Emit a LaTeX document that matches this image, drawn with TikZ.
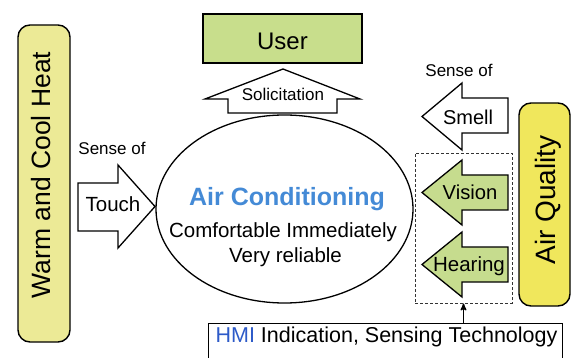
\documentclass[tikz,border=0pt]{standalone}
\usepackage{fontspec}
\setmainfont{Liberation Sans}
\usetikzlibrary{arrows,positioning,calc,shapes.geometric}
\definecolor{heatyellow}{RGB}{236,234,150}
\definecolor{airyellow}{RGB}{240,231,92}
\definecolor{usergreen}{RGB}{200,222,140}
\definecolor{sensegreen}{RGB}{198,220,142}
\definecolor{acblue}{RGB}{68,138,214}
\definecolor{hmiblue}{RGB}{45,90,200}

\begin{document}
\begin{tikzpicture}[x=1pt,y=-1pt,>=stealth',
bar/.style={draw=black, line width=1.4pt, rounded corners=12pt},
blockarrow/.style={draw=black, line width=1.3pt, fill=white, line join=miter},
txt/.style={anchor=base, inner sep=0pt, font=\fontsize{#1}{#1}\selectfont},
]
\useasboundingbox (0,0) rectangle (573,358);

\node[bar, fill=heatyellow, minimum width=52pt, minimum height=317pt] (heat) at (44,183.5) {};
\node[txt=26.5, rotate=90] (heattext) at (50,175) {Warm and Cool Heat};

\node[bar, fill=airyellow, minimum width=51pt, minimum height=203pt] (air) at (544.5,204.5) {};
\node[txt=28, rotate=90] (airtext) at (555,200) {Air Quality};

\node[draw=black, line width=1.4pt, fill=usergreen, minimum width=159pt, minimum height=49pt] (user) at (282.5,38.5) {};
\node[txt=24] (usertext) at (282.5,50) {User};

\node[draw=black, line width=1.3pt, ellipse, minimum width=257pt, minimum height=188pt] (ac) at (284.5,209) {};
\node[txt=25, font=\fontsize{25}{25}\selectfont\bfseries, text=acblue] (actitle) at (287,206) {Air Conditioning};
\node[txt=20.5] (comfort) at (283,237) {Comfortable Immediately};
\node[txt=20.5] (reliable) at (285.5,262) {Very reliable};

% block arrows
\draw[blockarrow] (228,113) -- (228,99) -- (205,99) -- (283,69) -- (360,99) -- (337,99) -- (337,113) -- cycle;
\node[txt=17] (solicit) at (283,100.5) {Solicitation};

\draw[blockarrow] (78,183) -- (118,183) -- (118,165) -- (155,206.5) -- (118,248) -- (118,231) -- (78,231) -- cycle;
\node[txt=17] (senseleft) at (112,155) {Sense of};
\node[txt=20.5] (touch) at (113,211.5) {Touch};

\draw[blockarrow] (508,98) -- (462,98) -- (462,83) -- (422,116.5) -- (462,150) -- (462,133) -- (508,133) -- cycle;
\node[txt=17] (senseright) at (459,77) {Sense of};
\node[txt=20] (smell) at (468,125) {Smell};

\draw[blockarrow, fill=sensegreen] (508,175) -- (462,175) -- (462,160) -- (422,192.5) -- (462,225) -- (462,210) -- (508,210) -- cycle;
\node[txt=20.2] (vision) at (470,200) {Vision};

\draw[blockarrow, fill=sensegreen] (508,247) -- (462,247) -- (462,232) -- (422,264.5) -- (462,297) -- (462,282) -- (508,282) -- cycle;
\node[txt=20.5] (hearing) at (469,272) {Hearing};

\node[draw=black!80, line width=0.9pt, dash pattern=on 3pt off 2pt, minimum width=97pt, minimum height=150pt] (sensors) at (463.5,228) {};

\node[draw=black, line width=1.3pt, minimum width=354pt, minimum height=50pt, anchor=north west] (hmi) at (208,323) {};
\node[txt=21.5] (hmitext) at (386.5,342) {\textcolor{hmiblue}{HMI} Indication, Sensing Technology};

\draw[->, line width=1.4pt] (hmi.north -| sensors.south) -- (sensors.south);

\end{tikzpicture}
\end{document}
